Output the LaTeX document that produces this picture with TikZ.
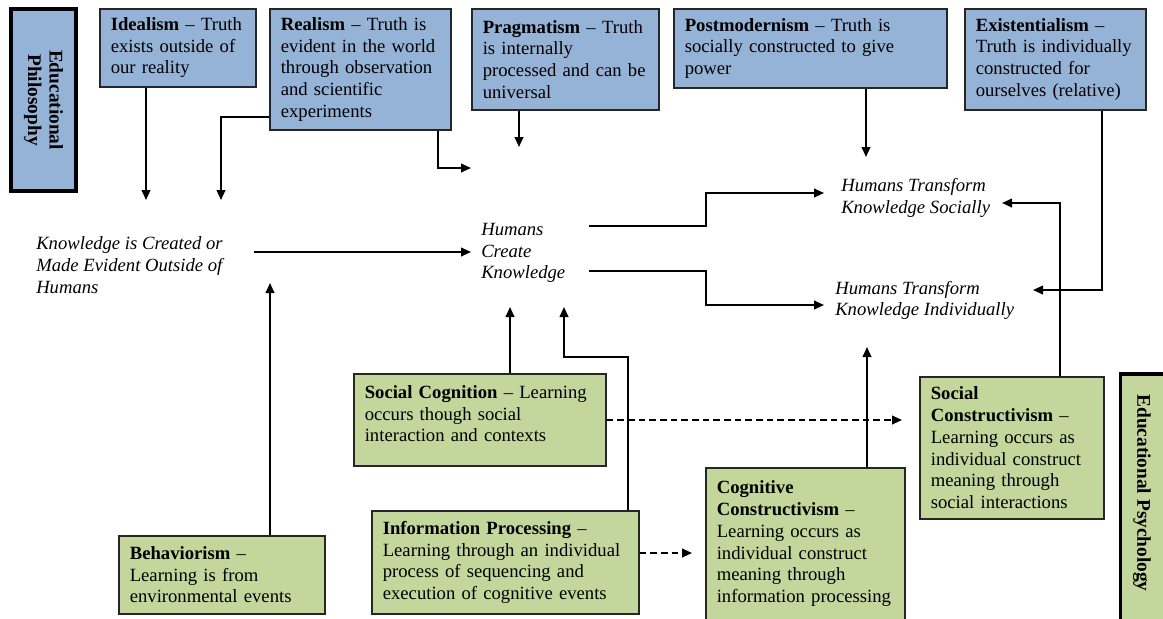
\documentclass[tikz,border=0pt]{standalone}
\usepackage{fontspec}
\setmainfont{Liberation Serif}
\usetikzlibrary{arrows.meta}
\definecolor{philblue}{HTML}{95B3D7}
\definecolor{psygreen}{HTML}{C3D69B}
\begin{document}
\begin{tikzpicture}[x=0.75pt,y=-0.75pt,
  arr/.style={line width=1.4pt,-{Triangle[length=7.5pt,width=6.5pt]}},
  darr/.style={arr,dash pattern=on 5pt off 3pt},
  cbox/.style={draw=black!85,line width=1.2pt,anchor=north west,inner xsep=8.25pt,inner ysep=0pt,align=left,font=\fontsize{14}{16.3}\selectfont},
  phil/.style={cbox,fill=philblue},
  psy/.style={cbox,fill=psygreen},
  lbl/.style={inner sep=0pt,anchor=west,align=left,font=\fontsize{14}{16.3}\selectfont\itshape},
  sidebox/.style={draw=black,line width=2.8pt,inner sep=0pt},
  sidetext/.style={inner sep=0pt,align=center,rotate=-90,font=\fontsize{14.5}{16}\selectfont\bfseries}
]
\path[use as bounding box,fill=white] (0,0) rectangle (1163,618);

% side boxes
\node[sidebox,fill=philblue,minimum width=48.75pt,minimum height=136.5pt] (EPh) at (43.5,100) {};
\node[sidetext] (EPhT) at (EPh.center) {Educational\\Philosophy};
\node[sidebox,fill=psygreen,minimum width=37.5pt,minimum height=192pt] (EPs) at (1145.5,502) {};
\node[sidetext] (EPsT) at (1142,493) {Educational Psychology};

% philosophy boxes
\node[phil,minimum width=117pt,minimum height=58.5pt,text width=100.5pt] (Id) at (99,8)
  {\textbf{Idealism} – Truth\\exists outside of\\our reality};
\node[phil,minimum width=135.75pt,minimum height=90.75pt,text width=119.25pt] (Re) at (269,8)
  {\textbf{Realism} – Truth is\\evident in the world\\through observation\\and scientific\\experiments};
\node[phil,minimum width=140.25pt,minimum height=75.75pt,text width=123.75pt] (Pr) at (471,8)
  {\textbf{Pragmatism} – Truth\\is internally\\processed and can be\\universal};
\node[phil,minimum width=204.75pt,minimum height=59.25pt,text width=188.25pt] (Po) at (673,8)
  {\textbf{Postmodernism} – Truth is\\socially constructed to give\\power};
\node[phil,minimum width=135.75pt,minimum height=75.75pt,text width=119.25pt] (Ex) at (964,8)
  {\textbf{Existentialism} –\\Truth is individually\\constructed for\\ourselves (relative)};

% psychology boxes
\node[psy,minimum width=189pt,minimum height=69pt,text width=172.5pt] (SC) at (353,373)
  {\textbf{Social Cognition} – Learning\\occurs though social\\interaction and contexts\par\kern9pt};
\node[psy,minimum width=154.5pt,minimum height=58.5pt,text width=138pt] (Be) at (118,535)
  {\textbf{Behaviorism} –\\Learning is from\\environmental events};
\node[psy,minimum width=200.25pt,minimum height=77.25pt,text width=183.75pt] (IP) at (371,510)
  {\textbf{Information Processing} –\\Learning through an individual\\process of sequencing and\\execution of cognitive events};
\node[psy,minimum width=149.25pt,minimum height=114pt,text width=132.75pt] (CC) at (705,467)
  {\textbf{Cognitive}\\\textbf{Constructivism} –\\Learning occurs as\\individual construct\\meaning through\\information processing};
\node[psy,minimum width=138pt,minimum height=106.5pt,text width=121.5pt] (SCo) at (919,376)
  {\textbf{Social}\\\textbf{Constructivism} –\\Learning occurs as\\individual construct\\meaning through\\social interactions};

% italic labels
\node[lbl] (K) at (36,265) {Knowledge is Created or\\Made Evident Outside of\\Humans};
\node[lbl] (HC) at (481,253) {Humans\\Create\\Knowledge};
\node[lbl] (HTS) at (841,198) {Humans Transform\\Knowledge Socially};
\node[lbl] (HTI) at (835,300.5) {Humans Transform\\Knowledge Individually};

% connectors from philosophy boxes
\coordinate (tId) at (146,200);
\draw[arr] (Id.south -| tId) -- (tId);
\coordinate (bRe) at (221,117);
\coordinate (tRe) at (221,200);
\draw[arr] (Re.west |- bRe) -- (bRe) -- (tRe);
\coordinate (cRb) at (438,168);
\coordinate (tRb) at (471,168);
\draw[arr] (Re.south -| cRb) -- (cRb) -- (tRb);
\coordinate (tPr) at (519,147);
\draw[arr] (Pr.south -| tPr) -- (tPr);
\coordinate (tPo) at (866,157);
\draw[arr] (Po.south -| tPo) -- (tPo);
\coordinate (cEx) at (1102,290);
\coordinate (tEx) at (1033,290);
\draw[arr] (Ex.south -| cEx) -- (cEx) -- (tEx);

% central flow
\coordinate (sK) at (254,252);
\coordinate (tK) at (471,252);
\draw[arr] (sK) -- (tK);
\coordinate (u1) at (589,226);
\coordinate (u2) at (706,226);
\coordinate (u3) at (706,193);
\coordinate (u4) at (824,193);
\draw[arr] (u1) -- (u2) -- (u3) -- (u4);
\coordinate (l1) at (589,271);
\coordinate (l2) at (706,271);
\coordinate (l3) at (706,305);
\coordinate (l4) at (824,305);
\draw[arr] (l1) -- (l2) -- (l3) -- (l4);

% connectors from psychology boxes
\coordinate (tBe) at (270,283);
\draw[arr] (Be.north -| tBe) -- (tBe);
\coordinate (tSC) at (510,307);
\draw[arr] (SC.north -| tSC) -- (tSC);
\coordinate (ipa) at (628,357);
\coordinate (ipb) at (564,357);
\coordinate (tIP) at (564,307);
\draw[arr] (IP.north -| ipa) -- (ipa) -- (ipb) -- (tIP);
\coordinate (dSC) at (0,420);
\draw[darr,shorten >=12.75pt] (SC.east |- dSC) -- (SCo.west |- dSC);
\coordinate (dIP) at (0,553);
\draw[darr,shorten >=9.75pt] (IP.east |- dIP) -- (CC.west |- dIP);
\coordinate (tCC) at (867,347);
\draw[arr] (CC.north -| tCC) -- (tCC);
\coordinate (cSCo) at (1060,203);
\coordinate (tSCo) at (1002,203);
\draw[arr] (SCo.north -| cSCo) -- (cSCo) -- (tSCo);
\end{tikzpicture}
\end{document}
